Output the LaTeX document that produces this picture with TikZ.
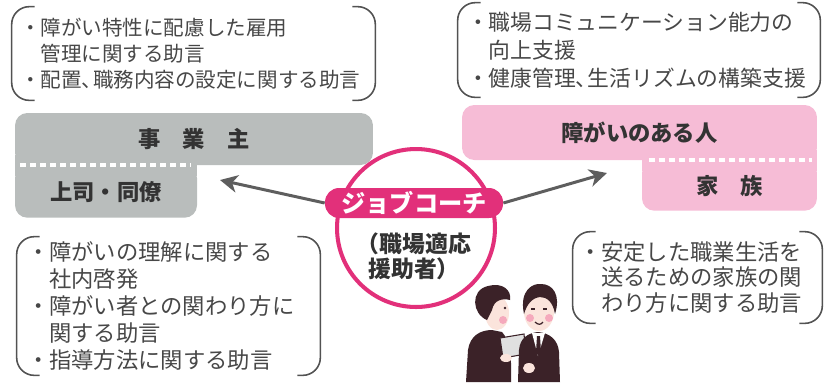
\documentclass[tikz,border=0pt]{standalone}
\usepackage{fontspec}
\setmainfont{Noto Sans CJK JP}
\usetikzlibrary{positioning,shapes,arrows.meta}

\definecolor{ink}{HTML}{333333}
\definecolor{boxgray}{HTML}{B9BDBC}
\definecolor{boxpink}{HTML}{F6BCD6}
\definecolor{coachred}{HTML}{E2307A}
\definecolor{arrowgray}{HTML}{5E5E5E}
\definecolor{suit}{HTML}{3B2228}
\definecolor{skin}{HTML}{FBE4DC}
\definecolor{cheek}{HTML}{F5A9BC}

% narrow comma inside the notes
\newcommand{\tou}{、\kern-.45em}
% round brackets on both sides of a note
\newcommand{\parens}[1]{%
  \draw[paren] ([xshift=13pt]#1.north west) -- (#1.north west) -- (#1.south west) -- ([xshift=13pt]#1.south west);
  \draw[paren] ([xshift=-13pt]#1.north east) -- (#1.north east) -- (#1.south east) -- ([xshift=-13pt]#1.south east);}

\begin{document}
\begin{tikzpicture}[x=0.02cm, y=-0.02cm,
    paren/.style={draw=ink!85, line width=0.9pt, rounded corners=10pt},
    note/.style={align=left, text=ink!90, inner ysep=0pt},
    box/.style={rounded corners=7pt, minimum height=1.04cm, text=ink,
      font=\bfseries\fontsize{12.7}{15}\selectfont},
    seam/.style={draw=white, line width=2.3pt, dash pattern=on 3.4pt off 2.3pt},
    link/.style={draw=arrowgray, line width=1.7pt,
      -{Stealth[length=10pt,width=10pt,inset=3pt]}}
  ]
  \useasboundingbox (0,0) rectangle (826,387);

  % employer side
  \node[box, fill=boxgray, minimum width=7.16cm] (owner) at (194,139) {事　業　主};
  \node[box, fill=boxgray, minimum width=3.64cm, below right=0pt and 0pt of owner.south west] (staff) {上司・同僚};
  \fill[boxgray] ([yshift=6pt]staff.north west) rectangle ([yshift=-6pt]staff.north east);
  \draw[seam] ([xshift=3pt]owner.south west) -- ([xshift=-4pt]staff.north east);

  % worker side
  \node[box, fill=boxpink, minimum width=7.1cm, minimum height=1.1cm] (person) at (639.5,132.5) {障がいのある人};
  \node[box, fill=boxpink, minimum width=3.5cm, minimum height=1.0cm, anchor=north east] (family) at (person.south east) {家　族};
  \fill[boxpink] ([yshift=6pt]family.north west) rectangle ([yshift=-6pt]family.north east);
  \draw[seam] ([xshift=4pt]family.north west) -- ([xshift=-3pt]family.north east);

  % notes
  \node[note, font=\fontsize{11.7}{14.7}\selectfont, text width=6.94cm, inner xsep=0.16cm,
    minimum height=1.86cm] (ownertips) at (193.5,53.5)
    {・障がい特性に配慮した雇用\\　管理に関する助言\\・配置\tou 職務内容の設定に関する助言};
  \node[note, font=\fontsize{12.4}{15.9}\selectfont, text width=6.88cm, inner xsep=0.18cm,
    minimum height=1.88cm] (persontips) at (639,50)
    {・職場コミュニケーション能力の\\　向上支援\\・健康管理\tou 生活リズムの構築支援};
  \node[note, font=\fontsize{12.7}{15.4}\selectfont, text width=5.66cm, inner xsep=0.2cm,
    minimum height=2.76cm] (stafftips) at (168.5,306)
    {・障がいの理解に関する\\　社内啓発\\・障がい者との関わり方に\\　関する助言\\・指導方法に関する助言};
  \node[note, font=\fontsize{12.7}{14.7}\selectfont, text width=4.74cm, inner xsep=0.12cm,
    minimum height=1.82cm] (familytips) at (697.5,277.5)
    {・安定した職業生活を\\　送るための家族の関\\　わり方に関する助言};
  \parens{ownertips}
  \parens{persontips}
  \parens{stafftips}
  \parens{familytips}

  % job coach in the middle
  \node[circle, draw=coachred, line width=2.3pt, fill=white, minimum size=3.16cm] (ring) at (416,228) {};
  \coordinate (staffend) at (220,180);
  \coordinate (personend) at (607,173);
  \node[fill=coachred, rounded corners=8pt, minimum width=3.56cm, minimum height=0.6cm, inner sep=0pt,
    text=white, font=\bfseries\fontsize{13.8}{16}\selectfont] (coach) at (414,203) {ジョブコーチ};
  \draw[link] (coach.west) -- (staffend);
  \draw[link] (coach.east) -- (personend);
  \node[text=ink, align=center, font=\bfseries\fontsize{13}{14.2}\selectfont] (role) at (414,256)
    {（職場適応\\援助者）};

  % two men talking
  \fill[suit] (466,382) -- (468,350) .. controls (470,336) and (480,330) .. (492,330) -- (502,332)
    .. controls (510,340) and (512,360) .. (511,382) -- cycle;
  \fill[skin] (497,313) ellipse [x radius=12, y radius=17];
  \fill[suit] (487,320) .. controls (472,314) and (470,290) .. (488,286)
    .. controls (502,282) and (512,290) .. (510,300)
    .. controls (502,298) and (494,300) .. (492,310) -- cycle;
  \fill[cheek] (503,320) circle [radius=4];
  \fill[suit] (505,308) circle [radius=1.3];
  \filldraw[fill=black!12, draw=suit, line width=0.6pt] (500,338) -- (524,334) -- (526,354) -- (503,358) -- cycle;
  \fill[skin] (506,358) ellipse [x radius=6, y radius=4];

  \fill[suit] (518,382) -- (519,350) .. controls (520,338) and (528,333) .. (538,332)
    .. controls (550,333) and (558,340) .. (559,352) -- (560,382) -- cycle;
  \fill[white] (532,333) -- (545,333) -- (538,356) -- cycle;
  \fill[suit] (537,336) -- (540,336) -- (541,352) -- (538.5,356) -- (536,352) -- cycle;
  \fill[skin] (539,312) ellipse [x radius=15, y radius=19];
  \fill[suit] (524,314) .. controls (519,290) and (533,283) .. (541,284)
    .. controls (553,284) and (561,295) .. (555,314)
    .. controls (553,302) and (547,297) .. (540,297)
    .. controls (532,298) and (527,304) .. (524,314) -- cycle;
  \fill[cheek] (530,318) circle [radius=4];
  \fill[cheek] (549,318) circle [radius=4];
  \draw[suit, line width=0.7pt] (531,309) -- (535,309) (543,309) -- (547,309);
  \draw[suit, line width=0.7pt] (535,322) .. controls (538,325) and (541,325) .. (543,322);
  \fill[skin] (529,368) ellipse [x radius=6, y radius=5];
\end{tikzpicture}
\end{document}
